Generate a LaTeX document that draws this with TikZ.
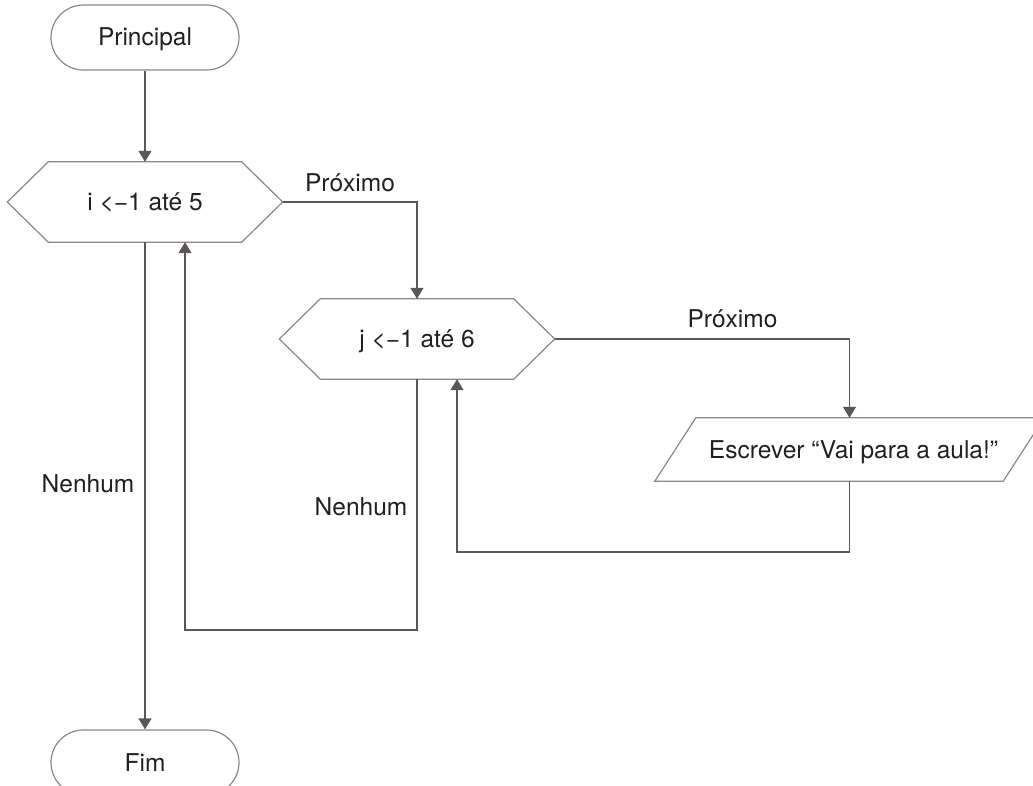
\documentclass[tikz,border=0pt]{standalone}
\usepackage{fontspec}
\setmainfont{TeX Gyre Heros}
\usetikzlibrary{arrows.meta,calc,shapes.misc}
\definecolor{ink}{RGB}{35,31,32}
\definecolor{outline}{RGB}{140,134,134}
\definecolor{flow}{RGB}{94,86,86}

\begin{document}
\begin{tikzpicture}[x=1pt,y=-1pt,
  font=\fontsize{24.5}{28}\selectfont, text=ink,
  terminal/.style={rounded rectangle, draw=outline, line width=1.2pt,
    minimum width=188pt, minimum height=65pt, inner sep=0pt,
    text height=17pt, text depth=0pt},
  loopbox/.style={rectangle, minimum width=275pt, minimum height=80pt,
    inner sep=0pt, text height=17pt, text depth=0pt},
  iobox/.style={rectangle, minimum width=348pt, minimum height=63pt,
    inner sep=0pt, text height=17pt, text depth=0pt},
  shape line/.style={draw=outline, line width=1.2pt, line join=miter},
  arr/.style={draw=flow, line width=1.3pt, -{Triangle[width=13pt,length=11pt]}},
  flowlabel/.style={anchor=base, inner sep=0pt}
]
\useasboundingbox (0,0) rectangle (1033,786);
\clip (0,0) rectangle (1033,786);

% start and end terminals
\node[terminal] (start) at (145,37.5) {Principal};
\node[terminal] (stop) at (145,762.5) {Fim};

% loop headers (hexagons)
\node[loopbox] (h1) at (145,202) {i <−1 até 5};
\node[loopbox] (h2) at (417,339) {j <−1 até 6};
\foreach \h in {h1,h2}{
  \draw[shape line] (\h.west) -- ($(\h.north west)+(41,0)$)
    -- ($(\h.north east)+(-41,0)$) -- (\h.east)
    -- ($(\h.south east)+(-41,0)$) -- ($(\h.south west)+(41,0)$) -- cycle;
}

% output step (parallelogram)
\node[iobox] (p) at (849.5,449.5) {\hspace{8pt}Escrever “Vai para a aula!”};
\draw[shape line] ($(p.north west)+(20.5,0)$) -- ($(p.north east)+(20.5,0)$)
  -- ($(p.south east)+(-20.5,0)$) -- ($(p.south west)+(-20.5,0)$) -- cycle;

% connectors
\coordinate (r1) at (457,552);
\coordinate (r2) at (185,630);
\draw[arr] (start.south) -- (h1.north);
\draw[arr] (h1.east) -| (h2.north);
\draw[arr] (h2.east) -| (p.north);
\draw[arr] (p.south) |- (r1) -- (r1 |- h2.south);
\draw[arr] (h2.south) |- (r2) -- (r2 |- h1.south);
\draw[arr] (h1.south) -- (stop.north);

% branch labels
\node[flowlabel] (l1) at (350,192) {Próximo};
\node[flowlabel] (l2) at (732.5,327) {Próximo};
\node[flowlabel] (l3) at (88,492) {Nenhum};
\node[flowlabel] (l4) at (361,515) {Nenhum};
\end{tikzpicture}
\end{document}
